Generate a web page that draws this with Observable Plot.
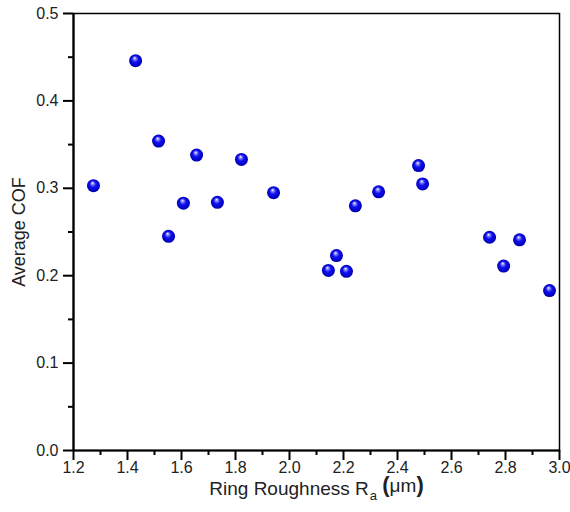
<!DOCTYPE html>
<html>
<head>
<meta charset="utf-8">
<script src="https://cdn.jsdelivr.net/npm/d3@7"></script>
<script src="https://cdn.jsdelivr.net/npm/@observablehq/plot@0.6"></script>
<style>
  html, body { margin: 0; padding: 0; background: #fff; }
  #chart svg { display: block; }
</style>
</head>
<body>
<div id="chart"></div>
<script>
const roughness = [1.274, 1.430, 1.515, 1.552, 1.607, 1.656, 1.733, 1.822, 1.941, 2.144, 2.174, 2.211, 2.244, 2.330, 2.478, 2.493, 2.741, 2.793, 2.852, 2.963];
const cof       = [0.303, 0.446, 0.354, 0.245, 0.283, 0.338, 0.284, 0.333, 0.295, 0.206, 0.223, 0.205, 0.280, 0.296, 0.326, 0.305, 0.244, 0.211, 0.241, 0.183];
const xMajor = [1.2, 1.4, 1.6, 1.8, 2.0, 2.2, 2.4, 2.6, 2.8, 3.0];
const xMinor = [1.3, 1.5, 1.7, 1.9, 2.1, 2.3, 2.5, 2.7, 2.9];
const yMajor = [0.0, 0.1, 0.2, 0.3, 0.4, 0.5];
const yMinor = [0.05, 0.15, 0.25, 0.35, 0.45];
const xTitle = "Ring Roughness Ra (μm)";
const yTitle = "Average COF";

const data = roughness.map((x, i) => ({x, y: cof[i]}));

const chart = Plot.plot({
  width: 570,
  height: 512,
  marginLeft: 73,
  marginTop: 13,
  marginRight: 11,
  marginBottom: 62,
  style: {fontFamily: "'Liberation Sans', Arial, sans-serif", background: "#fff"},
  x: {domain: [1.2, 3.0]},
  y: {domain: [0, 0.5]},
  marks: [
    Plot.frame({stroke: "#000", strokeWidth: 1.5}),
    Plot.axisX(xMajor, {tickSize: 10, tickPadding: 1, strokeWidth: 2, stroke: "#000", fill: "#222", fontSize: 16, tickFormat: d3.format(".1f"), label: null}),
    Plot.axisX(xMinor, {tickSize: 5, strokeWidth: 2, stroke: "#000", text: null, label: null}),
    Plot.axisY(yMajor, {tickSize: 10, tickPadding: 5, strokeWidth: 2, stroke: "#000", fill: "#222", fontSize: 16, tickFormat: d3.format(".1f"), label: null}),
    Plot.axisY(yMinor, {tickSize: 5, strokeWidth: 2, stroke: "#000", text: null, label: null}),
    Plot.ruleX([1.2], {stroke: "#000", strokeWidth: 2.2}),
    Plot.ruleY([0], {stroke: "#000", strokeWidth: 2.2}),
    Plot.text([yTitle], {frameAnchor: "left", dx: -54, textAnchor: "middle", rotate: -90, fontSize: 18, fill: "#222", className: "ytitle"}),
    Plot.text([xTitle], {frameAnchor: "bottom", dy: 44, fontSize: 19, fill: "#222", className: "xtitle"}),
    Plot.dot(data, {x: "x", y: "y", r: 6.5, fill: "url(#sphere)", stroke: "none"})
  ]
});

// gradient for glossy spheres
const svg = d3.select(chart);
const defs = svg.insert("defs", ":first-child");
const g = defs.append("radialGradient").attr("id", "sphere")
  .attr("cx", "0.5").attr("cy", "0.5").attr("r", "0.55")
  .attr("fx", "0.42").attr("fy", "0.28");
g.append("stop").attr("offset", "0").attr("stop-color", "#ffffff");
g.append("stop").attr("offset", "0.18").attr("stop-color", "#8a8aff");
g.append("stop").attr("offset", "0.45").attr("stop-color", "#1010f0");
g.append("stop").attr("offset", "0.85").attr("stop-color", "#0000c0");
g.append("stop").attr("offset", "1").attr("stop-color", "#00008a");

// subscript in the x title
svg.selectAll("g.xtitle text").each(function() {
  const t = d3.select(this);
  t.text(null);
  t.append("tspan").text("Ring Roughness R");
  t.append("tspan").attr("dx", "1").attr("dy", "0.4em").attr("font-size", "13").text("a");
  t.append("tspan").attr("dy", "-0.4em").text(" ");
  t.append("tspan").attr("font-weight", "bold").attr("font-size", "22").text("(");
  t.append("tspan").text("μm");
  t.append("tspan").attr("font-weight", "bold").attr("font-size", "22").text(")");
});

document.getElementById("chart").append(chart);
</script>
</body>
</html>
